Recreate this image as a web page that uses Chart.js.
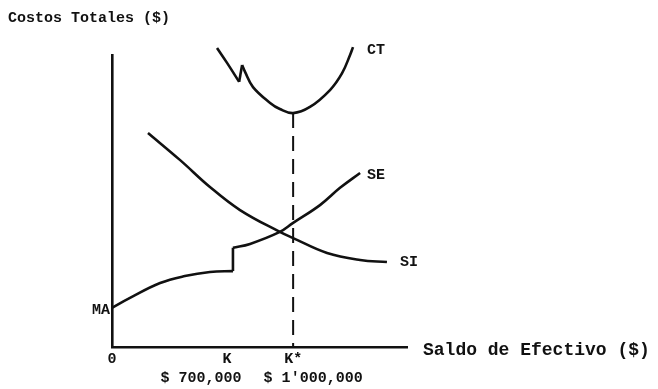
<!DOCTYPE html>
<html>
<head>
<meta charset="utf-8">
<script src="https://cdn.jsdelivr.net/npm/chart.js@4"></script>
<style>
  body { margin: 0; background: #fff; }
  #wrap { width: 658px; height: 389px; position: relative; }
</style>
</head>
<body>
<div id="wrap"><canvas id="costChart"></canvas></div>
<script>
// saldo de efectivo (x) y costos (y) en unidades relativas
const seLow = [[0, 13.4], [6.1, 16.8], [16.3, 21.9], [24.7, 24.3], [33.2, 25.7], [41, 26]];
const seJump = [[41, 26], [41, 34]];
const seHigh = [[41, 34], [46.8, 35.3], [56.9, 39.4], [61.4, 42.5], [70.5, 48.6], [77.3, 54.5], [84.1, 59.6]];
const siPoints = [[12.2, 73.3], [23.1, 64], [33.2, 54.8], [43.4, 46.9], [56.9, 39.4], [61.4, 37.3], [72.9, 32.2], [84.1, 29.8], [93.2, 29.1]];
const ctLeft = [[35.6, 102.4], [39, 97.3], [43.1, 90.8]];
const ctSpike = [[43.1, 90.8], [44.1, 96.6]];
const ctRight = [[44.1, 96.6], [45.1, 94.2], [47.8, 89], [53.6, 83.6], [56.9, 81.5], [61.4, 80.1], [67.1, 82.2], [73.9, 88], [78, 93.8], [80.7, 100], [81.7, 102.7]];
const kStar = [[61.4, 80.1], [61.4, 0]];

const xTickValues = [0, 39, 61.4];
const xTickLabels = ['0', 'K', 'K*'];
const xTickAmounts = ['', '$ 700,000', "$ 1'000,000"];

const ink = '#111';
const mono = '"Liberation Mono", "DejaVu Sans Mono", monospace';

function toXY(arr) {
    return arr.map(p => ({ x: p[0], y: p[1] }));
}

function curve(name, pts, smooth, extra) {
    return Object.assign({
        label: name,
        data: toXY(pts),
        showLine: true,
        borderColor: ink,
        borderWidth: 2.6,
        pointRadius: 0,
        fill: false,
        clip: false,
        tension: smooth ? 0.4 : 0
    }, extra || {});
}

// etiquetas de curvas y titulos de ejes
const textPlugin = {
    id: 'chartText',
    afterDatasetsDraw(chart) {
        const ctx = chart.ctx;
        const xs = chart.scales.x, ys = chart.scales.y;
        const px = p => xs.getPixelForValue(p[0]);
        const py = p => ys.getPixelForValue(p[1]);
        ctx.save();
        ctx.fillStyle = ink;
        ctx.textBaseline = 'middle';

        ctx.font = 'bold 15px ' + mono;
        ctx.textAlign = 'left';
        const ctEnd = ctRight[ctRight.length - 1];
        ctx.fillText('CT', px(ctEnd) + 14, py(ctEnd) + 3);
        const seEnd = seHigh[seHigh.length - 1];
        ctx.fillText('SE', px(seEnd) + 7, py(seEnd) + 2);
        const siEnd = siPoints[siPoints.length - 1];
        ctx.fillText('SI', px(siEnd) + 13, py(siEnd));
        ctx.textAlign = 'right';
        ctx.fillText('MA', px(seLow[0]) - 2, py(seLow[0]) + 2);

        // segunda linea de las marcas del eje x
        ctx.textAlign = 'center';
        const lineY = xs.bottom - 11;
        ctx.fillText(xTickAmounts[1], xs.getPixelForValue(xTickValues[1]) - 26, lineY);
        ctx.fillText(xTickAmounts[2], xs.getPixelForValue(xTickValues[2]) + 20, lineY);

        ctx.textAlign = 'left';
        ctx.fillText('Costos Totales ($)', 8, 18);
        ctx.font = 'bold 18px ' + mono;
        ctx.fillText('Saldo de Efectivo ($)', 423, ys.bottom + 3);
        ctx.restore();
    }
};

new Chart(document.getElementById('costChart'), {
    type: 'scatter',
    data: {
        datasets: [
            curve('SE', seLow, true),
            curve('SE salto', seJump, false),
            curve('SE', seHigh, true),
            curve('SI', siPoints, true),
            curve('CT', ctLeft, true),
            curve('CT pico', ctSpike, false),
            curve('CT', ctRight, true),
            curve('K*', kStar, false, { borderWidth: 2, borderDash: [15, 8] })
        ]
    },
    options: {
        responsive: true,
        maintainAspectRatio: false,
        animation: false,
        layout: { padding: { left: 112, right: 251, top: 55, bottom: 0 } },
        plugins: {
            legend: { display: false },
            tooltip: { enabled: false }
        },
        scales: {
            x: {
                type: 'linear',
                min: 0,
                max: 100,
                afterFit: s => { s.height = 42; },
                afterBuildTicks: s => { s.ticks = xTickValues.map(v => ({ value: v })); },
                grid: { display: false, drawTicks: false },
                border: { display: true, color: ink, width: 2.6 },
                ticks: {
                    autoSkip: false,
                    maxRotation: 0,
                    padding: 3,
                    color: ink,
                    font: { family: mono, size: 15, weight: 'bold' },
                    callback: v => xTickLabels[xTickValues.indexOf(v)]
                }
            },
            y: {
                type: 'linear',
                min: 0,
                max: 100,
                afterFit: s => { s.width = 0; },
                grid: { display: false, drawTicks: false },
                border: { display: true, color: ink, width: 2.6 },
                ticks: { display: false }
            }
        }
    },
    plugins: [textPlugin]
});
</script>
</body>
</html>
